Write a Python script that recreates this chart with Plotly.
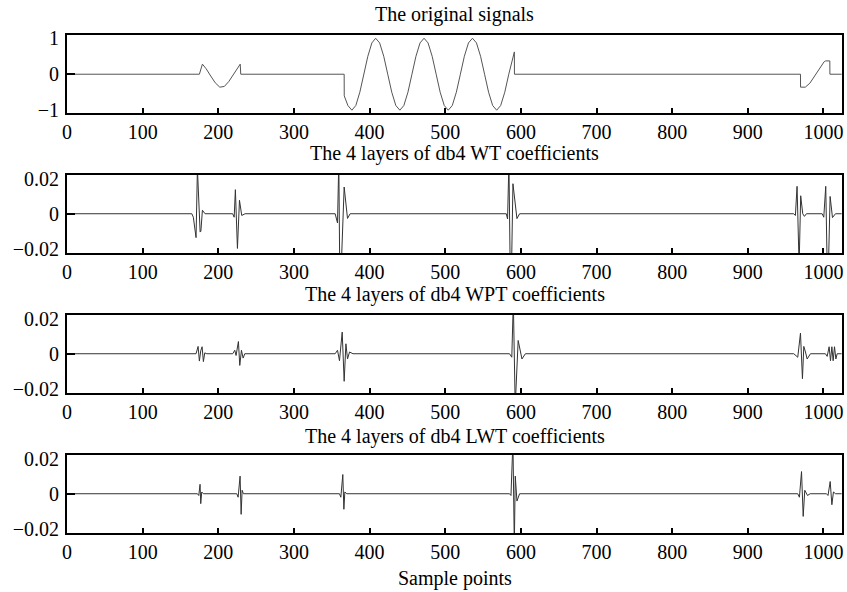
import plotly.graph_objects as go

# ---------------- data ----------------
x_ticks = [0, 100, 200, 300, 400, 500, 600, 700, 800, 900, 1000]

sig_x = [0, 175, 179, 184, 190, 196, 202, 208, 214, 220, 226, 229, 229.7,
         366.4, 366.5, 371.3, 376.6, 381.8, 387.1, 392.4, 397.7, 403, 408,
         413.3, 418.7, 424, 429.3, 434.7, 440, 445.3, 450.7, 456, 461.3,
         466.7, 472, 477.3, 482.7, 488, 493.3, 498.7, 504, 509.3, 514.7,
         520, 525.3, 530.7, 536, 541.3, 546.7, 552, 557.3, 562.7, 568,
         573.3, 578.7, 584, 589.3, 591.4, 591.5,
         969.6, 969.7, 976, 982, 988, 993, 997, 1001, 1003, 1008.4, 1008.5, 1024]
sig_y = [0, 0, 0.28, 0.15, -0.05, -0.24, -0.36, -0.34, -0.2, -0.02, 0.18, 0.28, 0,
         0, -0.6, -0.87, -1, -0.87, -0.5, 0, 0.5, 0.87, 1,
         0.87, 0.5, 0, -0.5, -0.87, -1, -0.87, -0.5, 0, 0.5,
         0.87, 1, 0.87, 0.5, 0, -0.5, -0.87, -1, -0.87, -0.5,
         0, 0.5, 0.87, 1, 0.87, 0.5, 0, -0.5, -0.87, -1,
         -0.87, -0.5, 0, 0.5, 0.62, 0,
         0, -0.36, -0.36, -0.25, -0.05, 0.12, 0.25, 0.35, 0.37, 0.37, 0, 0]

wt_x = [0, 165, 167, 170.6, 172.4, 176, 177, 179, 182.5,
        219, 221, 222.6, 225.3, 228, 231, 235.4,
        354.5, 357.6, 359.3, 360.5, 362.6, 366.4, 370.8, 374.3,
        580.7, 582.4, 584.2, 585.8, 587.7, 589.5, 594.8, 598.3,
        960.7, 962.9, 965.1, 967.8, 969.9, 972.6, 974.8, 977.5,
        998.3, 1000.4, 1003, 1004.9, 1006.6, 1008.8, 1011.9, 1015.9, 1024]
wt_y = [0, 0, -0.002, -0.0137, 0.026, -0.0105, -0.01, 0.002, 0,
        0, -0.002, 0.0138, -0.0199, 0.0077, -0.001, 0,
        0, -0.0053, 0.03, -0.03, -0.03, 0.0153, -0.0027, 0,
        0, -0.003, 0.03, -0.03, -0.03, 0.0172, -0.0028, 0,
        0, -0.001, 0.0157, -0.03, 0.0103, 0.0, -0.0015, 0,
        0, -0.002, 0.0157, -0.03, -0.03, 0.0099, -0.0022, 0, 0]

wpt_x = [0, 170.6, 173.3, 175, 176.8, 178.6, 180.3, 182.1, 184.8,
         219.1, 221.8, 223.5, 226.6, 228.4, 230.6, 232.8, 235,
         354.5, 357.6, 360.2, 363.8, 366.4, 368.7, 370.8, 373.5, 378,
         585, 588, 590, 592.5, 596.4, 601.4, 606,
         960.8, 966, 969.6, 972.2, 974, 976.2, 978.4, 982.8,
         1002.6, 1004.9, 1007.5, 1009.3, 1011.1, 1012.8, 1014.6, 1016.4, 1018.1, 1024]
wpt_y = [0, 0, 0.0042, -0.0042, 0.0017, 0.004, -0.0045, 0.0005, 0,
         0, 0.002, -0.001, 0.007, -0.0067, 0.002, -0.0025, 0,
         0, 0.002, -0.004, 0.0124, -0.0158, 0.0057, -0.003, 0.001, 0,
         0, -0.002, 0.03, -0.03, 0.0076, -0.003, 0,
         0, -0.002, 0.0118, -0.0143, 0.0042, 0.001, -0.003, 0,
         0, -0.0015, 0.004, -0.004, 0.004, -0.004, 0.004, -0.003, 0, 0]

lwt_x = [0, 172.4, 174.2, 175.9, 176.8, 178.1, 180.3,
         224.4, 226.2, 228.8, 230.2, 231.5, 233.2,
         360.2, 362, 364.6, 366, 367.3, 369.9,
         585, 586.9, 589.5, 591.3, 592.6, 594.8, 598.3,
         966, 968.2, 971, 973.2, 975.3, 978.9, 982.4,
         1004, 1006, 1008.9, 1011.1, 1013.2, 1016, 1024]
lwt_y = [0, 0, -0.001, 0.0054, -0.0057, 0.001, 0,
         0, -0.002, 0.0101, -0.0118, 0.002, 0,
         0, -0.002, 0.011, -0.0089, 0.001, 0,
         0, -0.001, 0.03, -0.03, 0.0101, -0.0042, 0,
         0, -0.002, 0.0127, -0.013, 0.002, -0.001, 0,
         0, -0.001, 0.007, -0.0063, 0.001, 0, 0]

titles = ["The original signals",
          "The 4 layers of db4 WT coefficients",
          "The 4 layers of db4 WPT coefficients",
          "The 4 layers of db4 LWT coefficients"]
y_ticks_sig = [-1, 0, 1]
y_text_sig = ["\u22121", "0", "1"]
y_ticks_coef = [-0.02, 0, 0.02]
y_text_coef = ["\u22120.02", "0", "0.02"]
x_label = "Sample points"

# ---------------- figure ----------------
W, H = 847, 592
FONT = "Liberation Serif"
FS = 20
fig = go.Figure()

series = [(sig_x, sig_y, "#555555"), (wt_x, wt_y, "#333333"),
          (wpt_x, wpt_y, "#333333"), (lwt_x, lwt_y, "#333333")]
for i, (xs, ys, col) in enumerate(series, start=1):
    fig.add_trace(go.Scatter(x=xs, y=ys, mode="lines",
                             line=dict(color=col, width=1),
                             xaxis="x" if i == 1 else f"x{i}",
                             yaxis="y" if i == 1 else f"y{i}",
                             showlegend=False, hoverinfo="skip"))

left_px, right_px = 67, 842
frames = [(35, 113), (175, 253), (315, 393), (455, 533)]
title_y = [14, 153, 295, 436]
layout = dict(width=W, height=H, margin=dict(l=0, r=0, t=0, b=0, autoexpand=False),
              template="none",
              paper_bgcolor="white", plot_bgcolor="white",
              font=dict(family=FONT, size=FS, color="black"), showlegend=False)
annotations = []
for i, (top, bot) in enumerate(frames, start=1):
    xa = "xaxis" if i == 1 else f"xaxis{i}"
    ya = "yaxis" if i == 1 else f"yaxis{i}"
    xr = "x" if i == 1 else f"x{i}"
    yr_name = "y" if i == 1 else f"y{i}"
    layout[xa] = dict(domain=[left_px / W, right_px / W], range=[0, 1024.5],
                      anchor=yr_name, automargin=False,
                      tickvals=x_ticks, ticks="inside", ticklen=5, tickwidth=2,
                      tickcolor="black", showline=True, linecolor="black",
                      linewidth=2, mirror=True, showgrid=False, zeroline=False,
                      tickfont=dict(family=FONT, size=FS, color="black"))
    if i == 1:
        yr, tv, tt = [-1.078, 1.09], y_ticks_sig, y_text_sig
    else:
        yr, tv, tt = [-0.0225, 0.0222], y_ticks_coef, y_text_coef
    layout[ya] = dict(domain=[1 - bot / H, 1 - top / H], range=yr,
                      anchor=xr, automargin=False,
                      tickvals=tv, ticktext=tt, ticks="", ticklabelstandoff=2,
                      showline=True,
                      linecolor="black", linewidth=2, mirror=True,
                      showgrid=False, zeroline=False,
                      tickfont=dict(family=FONT, size=FS, color="black"))
    # overlay axis carrying only the tick mark at zero (and the left frame line)
    layout[f"yaxis{i + 4}"] = dict(overlaying=yr_name, anchor=xr, range=yr,
                                   tickvals=[0], showticklabels=False,
                                   ticks="inside", ticklen=8, tickwidth=2,
                                   tickcolor="black", showline=True,
                                   linecolor="black", linewidth=2,
                                   showgrid=False, zeroline=False,
                                   automargin=False, side="left")
    annotations.append(dict(text=titles[i - 1], x=(left_px + right_px) / 2 / W,
                            y=1 - title_y[i - 1] / H, xref="paper", yref="paper",
                            xanchor="center", yanchor="middle", showarrow=False,
                            font=dict(family=FONT, size=FS, color="black")))
    fig.add_trace(go.Scatter(x=[], y=[], mode="lines", xaxis=xr,
                             yaxis=f"y{i + 4}", showlegend=False,
                             hoverinfo="skip"))
annotations.append(dict(text=x_label, x=(left_px + right_px) / 2 / W,
                        y=1 - 578 / H, xref="paper", yref="paper",
                        xanchor="center", yanchor="middle", showarrow=False,
                        font=dict(family=FONT, size=FS, color="black")))
layout["annotations"] = annotations
fig.update_layout(**layout)
fig.write_html("out.html")
